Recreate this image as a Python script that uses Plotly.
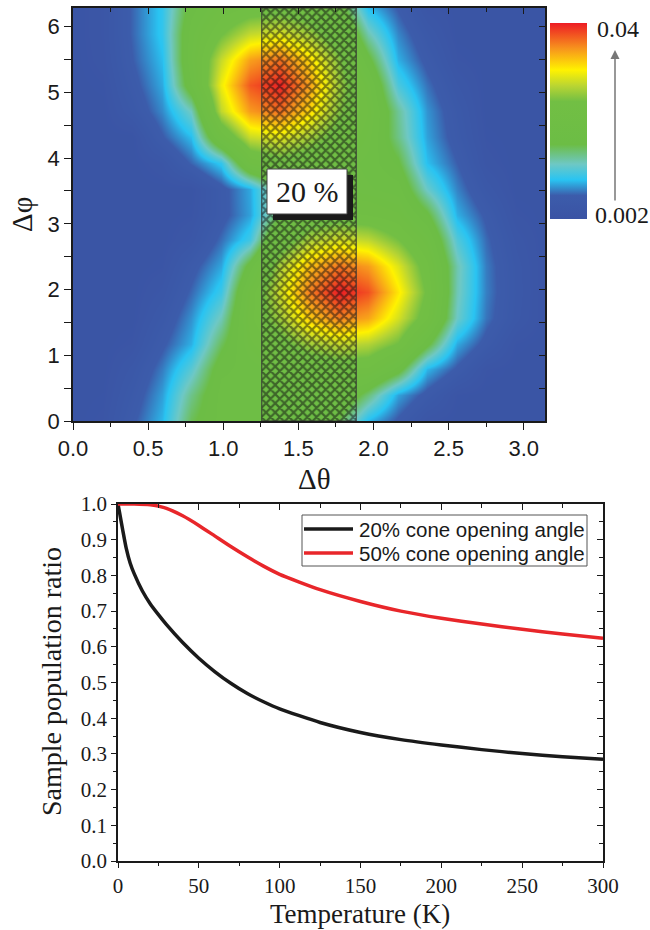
import numpy as np
import plotly.graph_objects as go

W, H = 650, 930

# ---------------- data: top map (values in units of 1e-3) ----------------
N_THETA = 17
N_PHI = 17
Z_E3 = [
    [2.8, 3.3, 6.2, 9.2, 15.9, 19.1, 19.1, 19.1, 17.5, 16.1, 9.2, 6.2, 3.3, 2.8, 2.8, 2.8, 2.8],
    [2.8, 3.0, 5.4, 8.5, 14.4, 19.1, 19.1, 19.6, 19.9, 20.1, 14.9, 8.6, 5.8, 3.1, 2.8, 2.8, 2.8],
    [2.8, 2.8, 4.5, 7.5, 11.7, 18.2, 19.1, 20.8, 22.0, 22.7, 22.4, 17.8, 9.2, 6.2, 3.3, 2.8, 2.8],
    [2.8, 2.8, 3.3, 6.2, 9.0, 15.7, 21.0, 23.5, 26.7, 28.4, 27.5, 24.6, 17.1, 8.8, 5.8, 3.1, 2.8],
    [2.8, 2.8, 2.8, 5.0, 8.1, 13.0, 22.2, 26.8, 32.6, 35.8, 34.3, 29.0, 22.9, 12.5, 7.3, 4.5, 2.8],
    [2.8, 2.8, 2.8, 3.9, 6.9, 10.4, 21.5, 28.9, 35.9, 40.0, 37.9, 31.4, 24.3, 13.1, 7.6, 4.7, 2.8],
    [2.8, 2.8, 2.8, 3.1, 5.8, 8.7, 17.7, 27.3, 33.1, 36.4, 34.7, 29.4, 23.1, 13.3, 7.5, 4.6, 2.8],
    [2.8, 2.8, 2.8, 2.8, 3.9, 7.1, 10.7, 22.4, 27.2, 29.1, 28.1, 25.0, 20.6, 11.4, 7.0, 4.1, 2.8],
    [2.8, 2.8, 2.8, 2.8, 3.1, 5.8, 8.6, 16.1, 22.3, 23.1, 22.7, 21.5, 17.0, 9.0, 6.2, 3.3, 2.8],
    [2.8, 2.8, 2.8, 2.8, 2.8, 5.8, 8.8, 16.2, 21.0, 20.7, 20.1, 19.3, 12.4, 7.7, 4.7, 2.8, 2.8],
    [2.8, 2.8, 2.8, 3.7, 6.8, 10.0, 21.2, 23.6, 22.4, 20.8, 19.5, 16.8, 9.5, 6.6, 3.5, 2.8, 2.8],
    [2.8, 2.8, 2.8, 6.4, 9.4, 21.2, 28.5, 29.6, 27.0, 23.1, 20.4, 14.5, 8.6, 5.6, 3.1, 2.8, 2.8],
    [2.8, 2.8, 4.9, 7.9, 12.8, 28.1, 34.8, 36.6, 32.2, 25.6, 21.3, 14.0, 8.2, 5.2, 2.8, 2.8, 2.8],
    [2.8, 3.1, 5.8, 8.8, 18.5, 30.2, 37.6, 39.8, 34.6, 26.8, 20.5, 11.1, 7.2, 4.3, 2.8, 2.8, 2.8],
    [2.8, 3.5, 6.5, 9.4, 19.8, 28.4, 34.6, 36.5, 32.1, 25.6, 17.3, 9.0, 6.0, 3.3, 2.8, 2.8, 2.8],
    [2.8, 3.7, 6.8, 10.0, 19.4, 24.6, 28.3, 29.4, 26.8, 22.3, 13.3, 7.8, 4.9, 2.8, 2.8, 2.8, 2.8],
    [2.8, 3.7, 6.8, 10.0, 17.8, 21.5, 23.0, 23.5, 22.4, 18.2, 9.4, 6.4, 3.5, 2.8, 2.8, 2.8, 2.8],
]
Z_MIN, Z_MAX = 0.002, 0.04
CBAR_LABELS = ["0.04", "0.002"]
CONE_FRACTION = 0.20
CONE_LABEL = "20 %"

# ---------------- data: bottom curves ----------------
T_20 = [0, 1, 2, 3, 5, 7.5, 10, 15, 20, 25, 30, 40, 50, 60, 70, 80, 90, 100,
        125, 150, 175, 200, 225, 250, 275, 300]
R_20 = [1.0, 0.975, 0.95, 0.925, 0.878, 0.835, 0.805, 0.757, 0.72, 0.69, 0.662,
        0.612, 0.568, 0.530, 0.497, 0.469, 0.446, 0.426, 0.388, 0.360, 0.340,
        0.325, 0.312, 0.301, 0.292, 0.285]
T_50 = [0, 10, 20, 25, 30, 40, 50, 60, 70, 80, 90, 100, 125, 150, 175, 200,
        225, 250, 275, 300]
R_50 = [1.0, 1.0, 0.998, 0.994, 0.988, 0.967, 0.94, 0.91, 0.88, 0.852, 0.826,
        0.803, 0.76, 0.727, 0.70, 0.68, 0.664, 0.649, 0.636, 0.624]
NAMES = ["20% cone opening angle", "50% cone opening angle"]
COLORS = ["#1a1a1a", "#e8262a"]

# ---------------- helpers ----------------
def px(x):
    return x / W

def py(y):
    return 1 - y / H

theta = np.linspace(0, np.pi, N_THETA)
phi = np.linspace(0, 2 * np.pi, N_PHI)
z = np.array(Z_E3) * 1e-3

cscale = [
    [0.00, "#3a53a4"], [0.12, "#3c5cab"], [0.20, "#29c4f2"], [0.28, "#6ec8c4"],
    [0.38, "#6cbd45"], [0.60, "#72bf44"], [0.68, "#bad532"], [0.76, "#fff200"],
    [0.87, "#f7941d"], [1.00, "#ed1c24"],
]

SERIF = "Liberation Serif, Times New Roman, serif"
SANS = "Liberation Sans, Arial, sans-serif"
INK = "#1a1a1a"

fig = go.Figure()

fig.add_trace(go.Heatmap(
    x=theta, y=phi, z=z, zmin=Z_MIN, zmax=Z_MAX, zsmooth="best",
    colorscale=cscale, xaxis="x", yaxis="y", hoverinfo="skip",
    colorbar=dict(x=px(550), xanchor="left", xpad=0, y=py(23), yanchor="top",
                  ypad=0, len=196, lenmode="pixels", thickness=37,
                  thicknessmode="pixels", outlinewidth=0, showticklabels=False,
                  ticks=""),
))

half = CONE_FRACTION * np.pi / 2
fig.add_trace(go.Bar(
    x=[np.pi / 2], y=[2 * np.pi], base=[0], width=[2 * half],
    xaxis="x", yaxis="y", showlegend=False, hoverinfo="skip",
    marker=dict(color="rgba(0,0,0,0)",
                line=dict(color="#333333", width=1),
                pattern=dict(shape="x", fgcolor="#0d0d0d", size=6.5, solidity=0.55)),
))

for t, r, n, c in [(T_20, R_20, NAMES[0], COLORS[0]), (T_50, R_50, NAMES[1], COLORS[1])]:
    fig.add_trace(go.Scatter(x=t, y=r, name=n, mode="lines", xaxis="x2", yaxis="y2",
                             showlegend=False,
                             line=dict(color=c, width=3.5, shape="spline", smoothing=0.5)))

axis_common = dict(showline=True, linecolor=INK, linewidth=1.5, mirror=True,
                   ticks="outside", tickcolor=INK, tickwidth=1.3, showgrid=False,
                   zeroline=False, automargin=False)
over_common = dict(showticklabels=False, ticks="inside", tickcolor=INK, tickwidth=1.3,
                   showgrid=False, zeroline=False, automargin=False, showline=False)

fig.update_layout(
    width=W, height=H, margin=dict(l=0, r=0, t=0, b=0, autoexpand=False),
    paper_bgcolor="white", plot_bgcolor="white", barmode="overlay",
    showlegend=False,
    xaxis=dict(domain=[px(73), px(545)], anchor="y", range=[0, np.pi],
               tick0=0, dtick=0.5, ticklen=7, tickformat=".1f",
               tickfont=dict(family=SANS, size=22, color=INK),
               minor=dict(dtick=0.25, ticks="outside", ticklen=4, tickcolor=INK),
               **axis_common),
    yaxis=dict(domain=[py(421), py(8)], anchor="x", range=[0, 2 * np.pi],
               tick0=0, dtick=1, ticklen=7,
               tickfont=dict(family=SANS, size=22, color=INK),
               minor=dict(dtick=0.5, ticks="outside", ticklen=7, tickcolor=INK),
               **axis_common),
    xaxis3=dict(overlaying="x", anchor="y", side="top", range=[0, np.pi],
                ticklen=6, tick0=0, dtick=0.5,
                minor=dict(dtick=0.25, ticks="inside", ticklen=4, tickcolor=INK),
                **over_common),
    yaxis3=dict(overlaying="y", anchor="x", side="right", range=[0, 2 * np.pi],
                ticklen=6, tick0=0, dtick=1,
                minor=dict(dtick=0.5, ticks="inside", ticklen=6, tickcolor=INK),
                **over_common),
    xaxis2=dict(domain=[px(118), px(603)], anchor="y2", range=[0, 300],
                tick0=0, dtick=50, ticklen=5,
                tickfont=dict(family=SERIF, size=21, color=INK),
                minor=dict(dtick=25, ticks="outside", ticklen=3, tickcolor=INK),
                **axis_common),
    yaxis2=dict(domain=[py(861), py(504)], anchor="x2", range=[0, 1.0],
                tick0=0, dtick=0.1, ticklen=5, tickformat=".1f",
                tickfont=dict(family=SERIF, size=21, color=INK),
                minor=dict(dtick=0.05, ticks="outside", ticklen=3, tickcolor=INK),
                **axis_common),
    xaxis4=dict(overlaying="x2", anchor="y2", side="top", range=[0, 300],
                ticklen=6, tick0=0, dtick=50,
                minor=dict(dtick=25, ticks="inside", ticklen=4, tickcolor=INK),
                **over_common),
    yaxis4=dict(overlaying="y2", anchor="x2", side="right", range=[0, 1.0],
                ticklen=6, tick0=0, dtick=0.1,
                minor=dict(dtick=0.05, ticks="inside", ticklen=4, tickcolor=INK),
                **over_common),
)

# dummy traces so the overlay axes are drawn
fig.add_trace(go.Scatter(x=[None], y=[None], xaxis="x3", yaxis="y3", showlegend=False, hoverinfo="skip"))
fig.add_trace(go.Scatter(x=[None], y=[None], xaxis="x4", yaxis="y4", showlegend=False, hoverinfo="skip"))

def note(x, y, text, size, family=SERIF, angle=0, xanchor="center"):
    fig.add_annotation(x=px(x), y=py(y), xref="paper", yref="paper", text=text,
                       showarrow=False, xanchor=xanchor, yanchor="middle",
                       textangle=angle, font=dict(family=family, size=size, color=INK))

# 20 % label with drop shadow
fig.add_shape(type="rect", xref="paper", yref="paper", x0=px(273), x1=px(353),
              y0=py(220), y1=py(175), fillcolor=INK, line=dict(width=0))
fig.add_shape(type="rect", xref="paper", yref="paper", x0=px(267), x1=px(347),
              y0=py(214), y1=py(169), fillcolor="white", line=dict(color="#444444", width=1))
note(307, 192, CONE_LABEL, 30)

# colorbar labels and arrow
note(595, 29, CBAR_LABELS[0], 24, xanchor="left")
note(593, 215, CBAR_LABELS[1], 24, xanchor="left")
fig.add_annotation(x=px(615), y=py(50), xref="paper", yref="paper", text="",
                   showarrow=True, ax=0, ay=152, arrowhead=2, arrowsize=1.2,
                   arrowwidth=1.5, arrowcolor="#777777")

# axis titles
note(314, 479, "Δθ", 29)
note(22, 215, "Δφ", 29, angle=-90)
note(51, 682, "Sample population ratio", 28, angle=-90)
note(360, 914, "Temperature (K)", 27)

# legend (drawn as box, sample lines and labels)
LEG_X0, LEG_X1, LEG_Y0, LEG_Y1 = 302, 587, 515, 566
fig.add_shape(type="rect", xref="paper", yref="paper", x0=px(LEG_X0), x1=px(LEG_X1),
              y0=py(LEG_Y1), y1=py(LEG_Y0), fillcolor="white",
              line=dict(color="#555555", width=1))
for k, (n, c) in enumerate(zip(NAMES, COLORS)):
    yy = 529 + 24 * k
    fig.add_shape(type="line", xref="paper", yref="paper", x0=px(304), x1=px(353),
                  y0=py(yy), y1=py(yy), line=dict(color=c, width=3.5))
    note(357, yy, n, 20.5, family=SANS, xanchor="left")

fig.write_html("out.html")
